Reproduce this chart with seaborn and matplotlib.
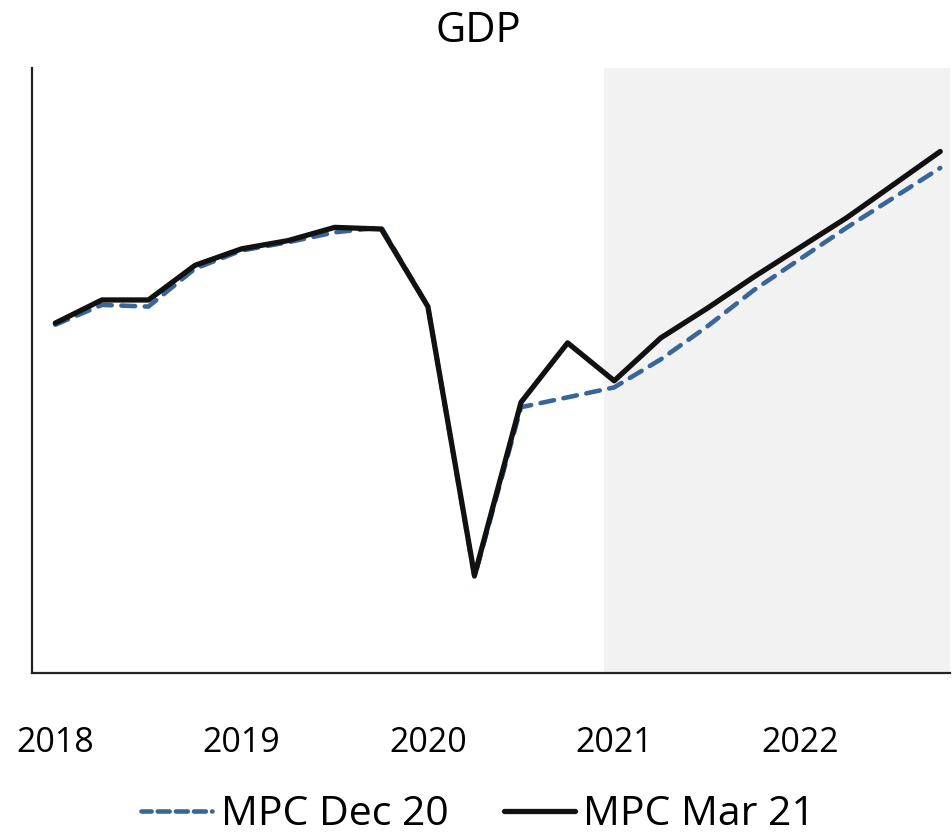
import matplotlib
matplotlib.use("Agg")
import matplotlib.pyplot as plt
import seaborn as sns
import pandas as pd
from matplotlib.lines import Line2D

# ---- data ----
quarters = ["2018Q1", "2018Q2", "2018Q3", "2018Q4",
            "2019Q1", "2019Q2", "2019Q3", "2019Q4",
            "2020Q1", "2020Q2", "2020Q3", "2020Q4",
            "2021Q1", "2021Q2", "2021Q3", "2021Q4",
            "2022Q1", "2022Q2", "2022Q3", "2022Q4"]
mpc_dec20 = [94.2, 95.4, 95.3, 97.6, 98.7, 99.2, 99.8, 100.1,
             95.3, 78.9, 89.2, 89.8, 90.4, 92.1, 94.1, 96.3,
             98.2, 100.1, 101.9, 103.7]
mpc_mar21 = [94.3, 95.7, 95.7, 97.8, 98.8, 99.3, 100.1, 100.0,
             95.3, 79.0, 89.5, 93.1, 90.8, 93.4, 95.2, 97.1,
             98.9, 100.7, 102.7, 104.7]
series_names = ["MPC Dec 20", "MPC Mar 21"]
year_labels = ["2018", "2019", "2020", "2021", "2022"]
forecast_start = "2021Q1"

sns.set_theme(style="white")
plt.rcParams["font.family"] = ["Open Sans", "DejaVu Sans"]
plt.rcParams["text.color"] = "black"
plt.rcParams["lines.dash_capstyle"] = "round"
plt.rcParams["lines.solid_capstyle"] = "round"

idx = list(range(len(quarters)))
df = pd.DataFrame({
    "t": idx * 2,
    "value": mpc_dec20 + mpc_mar21,
    "series": [series_names[0]] * len(idx) + [series_names[1]] * len(idx),
})

fig = plt.figure(figsize=(9.52, 8.36), dpi=100)
ax = fig.add_axes([32 / 952, 1 - 673 / 836, 918 / 952, (673 - 68) / 836])

fs = quarters.index(forecast_start)
ax.axvspan(fs - 0.21, 25, color="#F2F2F2", lw=0, zorder=0)

colors = {series_names[0]: "#3A6599", series_names[1]: "#111111"}
sns.lineplot(data=df, x="t", y="value", hue="series", style="series",
             hue_order=series_names, style_order=series_names,
             palette=colors,
             dashes={series_names[0]: (3.0, 2.1), series_names[1]: ""},
             linewidth=3.3, ax=ax, legend=False, zorder=3)
for ln, lw in zip(ax.get_lines(), [3.3, 3.8]):
    ln.set_linewidth(lw)

ax.set_xlim(-0.5, 19.21)
ax.set_ylim(73.09, 109.76)
ax.set_xticks(idx[::4])
ax.set_xticklabels(year_labels)
ax.set_yticks([])
ax.set_xlabel("")
ax.set_ylabel("")
ax.tick_params(axis="x", length=0, pad=38, labelsize=24.5, colors="black")
for s in ["top", "right"]:
    ax.spines[s].set_visible(False)
for s in ["left", "bottom"]:
    ax.spines[s].set_color("#222222")
    ax.spines[s].set_linewidth(1.6)

fig.text(478 / 952, 1 - 42 / 836, "GDP", ha="center", va="baseline",
         fontsize=30, color="black")

handles = [Line2D([], [], color=colors[series_names[0]], lw=3.3,
                  ls=(0.4, (2.6, 1.35))),
           Line2D([], [], color=colors[series_names[1]], lw=3.8)]
leg = fig.legend(handles, series_names, loc="center",
                 bbox_to_anchor=(478 / 952, 0.0255), ncol=2, frameon=False,
                 fontsize=29.5, handlelength=1.75, handletextpad=0.2,
                 columnspacing=1.35, borderpad=0, borderaxespad=0)
for t in leg.get_texts():
    t.set_color("black")

fig.savefig("out.png", dpi=100)
